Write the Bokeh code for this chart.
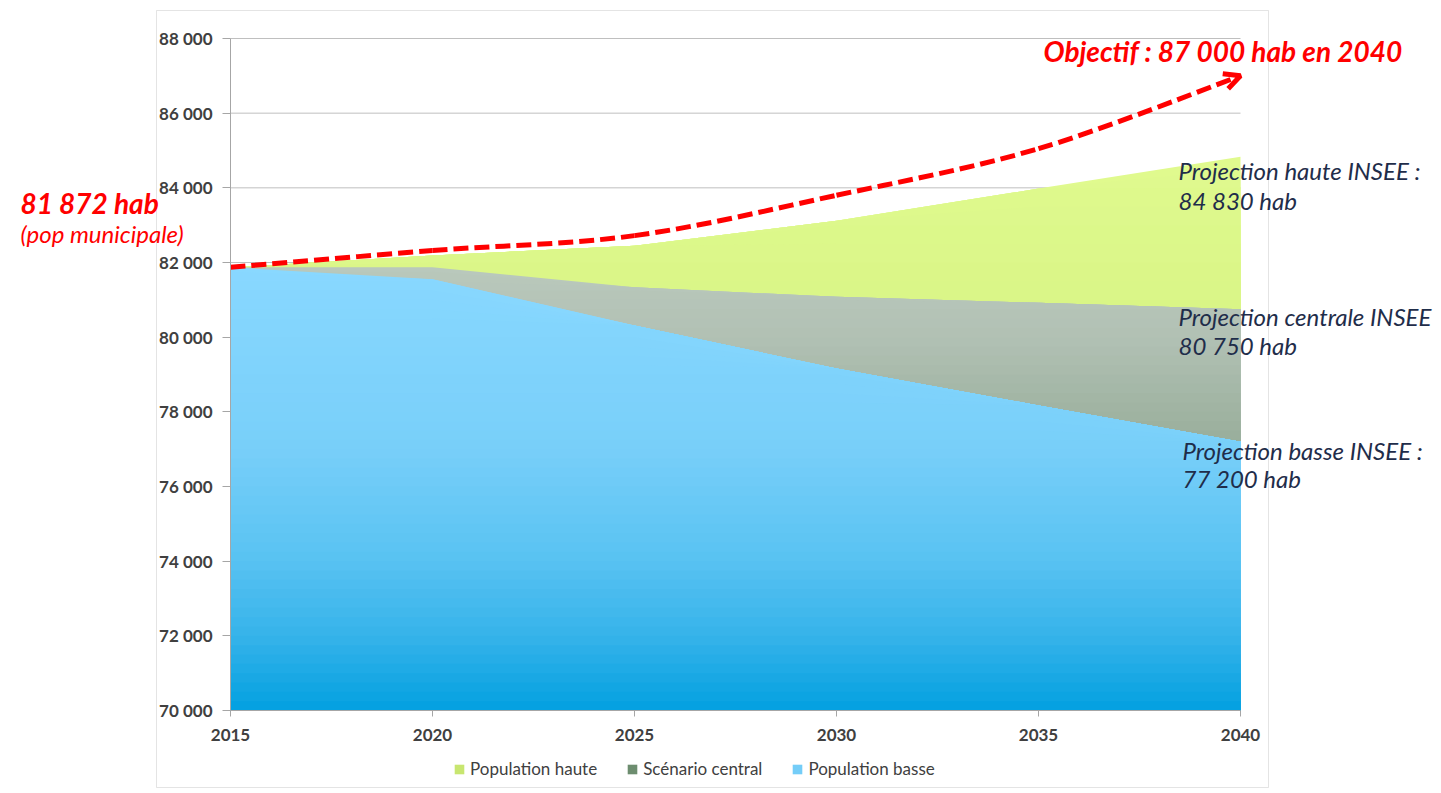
import numpy as np
from bokeh.plotting import figure
from bokeh.models import (Range1d, FixedTicker, Label, Legend, LegendItem,
                          BoxAnnotation, Arrow, OpenHead)
from bokeh.embed import file_html
from bokeh.resources import INLINE

# ---------------- data ----------------
years = [2015, 2020, 2025, 2030, 2035, 2040]
pop_haute = [81872, 82190, 82450, 83120, 83980, 84830]
pop_centrale = [81872, 81870, 81335, 81080, 80920, 80750]
pop_basse = [81872, 81550, 80310, 79160, 78170, 77200]
objectif = [81872, 82320, 82720, 83800, 85050, 87000]

y_ticks = [70000, 72000, 74000, 76000, 78000, 80000, 82000, 84000, 86000, 88000]
y_labels = ["70 000", "72 000", "74 000", "76 000", "78 000", "80 000",
            "82 000", "84 000", "86 000", "88 000"]
x_ticks = [2015, 2020, 2025, 2030, 2035, 2040]
series_labels = ["Population haute", "Scénario central", "Population basse"]

# ---------------- layout (pixels) ----------------
W, H = 1441, 793
PX_L, PX_R, PY_T, PY_B = 230, 1240, 38, 710       # plot area in canvas pixels
X0, X1, Y0, Y1 = 2015, 2040, 70000, 88000
sx = (PX_R - PX_L) / (X1 - X0)
sy = (PY_B - PY_T) / (Y1 - Y0)


def px2x(px):
    return X0 + (px - PX_L) / sx


def py2y(py):
    return Y1 - (py - PY_T) / sy


p = figure(width=W, height=H, output_backend="svg", toolbar_location=None,
           x_range=Range1d(px2x(0), px2x(W)), y_range=Range1d(py2y(H), py2y(0)),
           min_border=0)
p.outline_line_color = None
p.background_fill_color = "white"
p.border_fill_color = "white"
p.xgrid.grid_line_color = None
p.ygrid.grid_line_color = None

# horizontal gridlines limited to the plot area
p.segment(x0=[X0] * len(y_ticks), x1=[X1] * len(y_ticks), y0=y_ticks, y1=y_ticks,
          line_color="#bfbfbf", line_width=1)


def hex2rgb(c):
    c = c.lstrip("#")
    return [int(c[i:i + 2], 16) for i in (0, 2, 4)]


def grad_color(v, stops_v, stops_c):
    rgbs = np.array([hex2rgb(c) for c in stops_c], float)
    out = [int(round(np.interp(v, stops_v, rgbs[:, i]))) for i in range(3)]
    return "#%02x%02x%02x" % tuple(out)


def gradient_area(x, upper, edges, stops_v, stops_c):
    upper = np.asarray(upper, float)
    lower = np.full_like(upper, float(Y0))
    for k in range(len(edges) - 1, 0, -1):
        lo, hi = edges[k - 1], edges[k]
        top = np.clip(hi, lower, upper) if k < len(edges) - 1 else upper
        col = grad_color((lo + hi) / 2, stops_v, stops_c)
        p.varea(x=x, y1=lower, y2=top, fill_color=col, fill_alpha=1.0)


# haute (behind)
gradient_area(years, pop_haute, [Y0] + list(np.arange(80500, 85001, 500)),
              [80500, 85000], ["#d9f586", "#e0fa8f"])
# central
gradient_area(years, pop_centrale, [Y0] + list(np.arange(76500, 82001, 250)),
              [76500, 77200, 80000, 82000],
              ["#95aa96", "#99ae9b", "#b1c1b4", "#bac8bc"])
# basse (front)
gradient_area(years, pop_basse, list(np.arange(Y0, 82001, 250)),
              [70000, 72000, 74000, 77000, 82000],
              ["#02a0e0", "#36b3ea", "#58c2f2", "#78cff9", "#89d8ff"])

# objective dashed curve (smooth via Catmull-Rom bezier segments)
xs = np.array(years, float)
ys = np.array(objectif, float)
n = len(xs)
x0, y0, x1, y1, cx0, cy0, cx1, cy1 = ([] for _ in range(8))
for i in range(n - 1):
    ip = max(i - 1, 0)
    inn = min(i + 2, n - 1)
    x0.append(xs[i]); y0.append(ys[i])
    x1.append(xs[i + 1]); y1.append(ys[i + 1])
    cx0.append(xs[i] + (xs[i + 1] - xs[ip]) / 6)
    cy0.append(ys[i] + (ys[i + 1] - ys[ip]) / 6)
    cx1.append(xs[i + 1] - (xs[inn] - xs[i]) / 6)
    cy1.append(ys[i + 1] - (ys[inn] - ys[i]) / 6)
p.bezier(x0=x0, y0=y0, x1=x1, y1=y1, cx0=cx0, cy0=cy0, cx1=cx1, cy1=cy1,
         line_color="#ff0000", line_width=5, line_dash="15 6")
p.add_layout(Arrow(end=OpenHead(size=16, line_color="#ff0000", line_width=5),
                   x_start=cx1[-1], y_start=cy1[-1], x_end=x1[-1], y_end=y1[-1],
                   line_alpha=0))

# ---------------- axes ----------------
for ax in (p.yaxis, p.xaxis):
    ax.axis_line_color = "#a6a6a6"
    ax.major_tick_line_color = "#a6a6a6"
    ax.minor_tick_line_color = None
    ax.major_tick_in = 0
    ax.major_label_text_font = "Lato"
    ax.major_label_text_font_style = "bold"
    ax.major_label_text_font_size = "17px"
    ax.major_label_text_color = "#404040"
p.yaxis.fixed_location = X0
p.yaxis.bounds = (Y0, Y1)
p.yaxis.ticker = FixedTicker(ticks=y_ticks)
p.yaxis.major_label_overrides = {int(t): l for t, l in zip(y_ticks, y_labels)}
p.yaxis.major_tick_out = 8
p.yaxis.major_label_standoff = 10
p.xaxis.fixed_location = Y0
p.xaxis.bounds = (X0, X1)
p.xaxis.ticker = FixedTicker(ticks=x_ticks)
p.xaxis.major_tick_out = 6
p.xaxis.major_label_standoff = 12

# ---------------- legend ----------------
legend_colors = ["#c8e670", "#6d8d6f", "#74cdf8"]
leg_items = []
for lab, col in zip(series_labels, legend_colors):
    r = p.varea(x=[X0, X0], y1=[Y0, Y0], y2=[Y0, Y0], fill_color=col)
    leg_items.append(LegendItem(label=lab, renderers=[r]))
legend = Legend(items=leg_items, orientation="horizontal", location=(453, 14),
                glyph_width=12, glyph_height=12, label_standoff=5, spacing=29,
                label_text_font="Lato", label_text_font_size="17px",
                label_text_color="#404040", padding=0, margin=0,
                border_line_color=None, background_fill_alpha=0)
p.add_layout(legend)

# ---------------- annotations ----------------
red = "#ff0000"
navy = "#1f2d4a"
DY = -12   # baseline correction


def add_text(px, py, t, size, style, color):
    p.add_layout(Label(x=px2x(px), y=py2y(py + DY), text=t, text_font="Lato",
                       text_font_style=style, text_font_size=size,
                       text_color=color, text_baseline="alphabetic"))


add_text(1043, 62, "Objectif : 87 000 hab en 2040", "28px", "bold italic", red)
add_text(20, 214, "81 872 hab", "28px", "bold italic", red)
add_text(20, 245, "(pop municipale)", "24px", "italic", red)
for px, py, t in [(1178, 182, "Projection haute INSEE :"),
                  (1178, 212, "84 830 hab"),
                  (1178, 328, "Projection centrale INSEE"),
                  (1178, 357, "80 750 hab"),
                  (1182, 462, "Projection basse INSEE :"),
                  (1182, 490, "77 200 hab")]:
    add_text(px, py, t, "24px", "italic", navy)

# outer chart frame
p.add_layout(BoxAnnotation(left=px2x(156), right=px2x(1268),
                           top=py2y(10), bottom=py2y(787),
                           fill_alpha=0, line_color="#a6a6a6", line_width=1,
                           level="underlay"))

open("out.html", "w").write(file_html(p, INLINE))
